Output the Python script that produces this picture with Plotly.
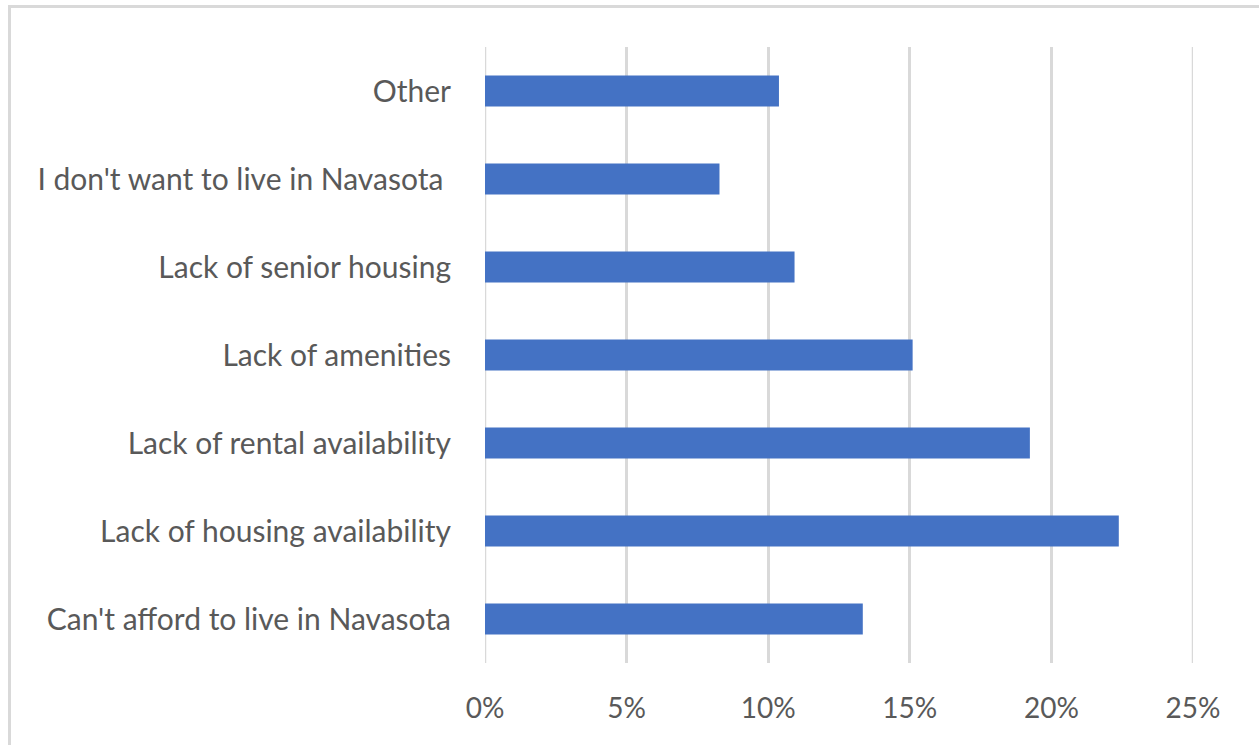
import plotly.graph_objects as go

# Survey responses: reasons for not living in Navasota (share of respondents)
categories = [
    "Can't afford to live in Navasota",
    "Lack of housing availability",
    "Lack of rental availability",
    "Lack of amenities",
    "Lack of senior housing",
    "I don't want to live in Navasota ",
    "Other",
]
shares = [0.1334, 0.2238, 0.1924, 0.1510, 0.1093, 0.0828, 0.1038]
tick_values = [0, 0.05, 0.10, 0.15, 0.20, 0.25]
tick_labels = ["0%", "5%", "10%", "15%", "20%", "25%"]

W, H = 1259, 745
L, R, T, B = 485, 66, 47, 82
pw, ph = W - L - R, H - T - B

fig = go.Figure(
    go.Bar(
        y=categories,
        x=shares,
        orientation="h",
        width=0.35,
        marker=dict(color="#4472C4", line=dict(width=0)),
        hoverinfo="skip",
    )
)

yfont = dict(family="Lato, 'Open Sans', sans-serif", size=30, color="#595959")
xfont = dict(family="Lato, 'Open Sans', sans-serif", size=28, color="#595959")

grid_color = "#d9d9d9"


def edge_gridline(value):
    # plotly skips gridlines sitting on the plot edges, so draw those explicitly
    return dict(
        type="line",
        xref="x",
        yref="paper",
        x0=value,
        x1=value,
        y0=0,
        y1=1,
        line=dict(color=grid_color, width=2.5),
        layer="below",
    )


fig.update_layout(
    width=W,
    height=H,
    margin=dict(l=L, r=R, t=T, b=B),
    paper_bgcolor="white",
    plot_bgcolor="white",
    showlegend=False,
    font=yfont,
    xaxis=dict(
        range=[tick_values[0], tick_values[-1]],
        tickvals=tick_values,
        ticktext=tick_labels,
        showgrid=True,
        gridcolor=grid_color,
        gridwidth=2.5,
        zeroline=False,
        showline=False,
        ticks="outside",
        ticklen=20,
        tickcolor="rgba(0,0,0,0)",
        tickfont=xfont,
        fixedrange=True,
    ),
    yaxis=dict(
        range=[-0.5, len(categories) - 0.5],
        showgrid=False,
        zeroline=False,
        showline=False,
        ticks="outside",
        ticklen=27,
        tickcolor="rgba(0,0,0,0)",
        tickfont=yfont,
        fixedrange=True,
    ),
    shapes=[
        # chart frame
        dict(
            type="rect",
            xref="paper",
            yref="paper",
            x0=(9.5 - L) / pw,
            x1=(W + 10 - L) / pw,
            y0=-(B + 10) / ph,
            y1=1 + (T - 6.5) / ph,
            line=dict(color=grid_color, width=3),
            fillcolor="rgba(0,0,0,0)",
            layer="below",
        ),
        edge_gridline(tick_values[0]),
        edge_gridline(tick_values[-1]),
    ],
)

fig.write_html("out.html", config={"displayModeBar": False})
